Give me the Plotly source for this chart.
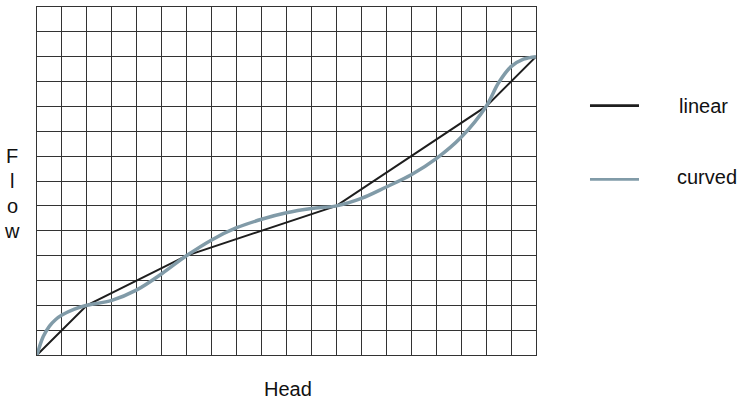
import plotly.graph_objects as go

# Data
linear_x = [0, 2, 6, 12, 18, 20]
linear_y = [0, 2, 4, 6, 10, 12]

curved_x = [0, 0.25, 0.5, 0.75, 1, 1.5, 2, 3, 4, 5, 6, 7, 8, 9, 10, 11, 12,
            13, 14, 15, 16, 17, 18, 18.5, 19, 19.5, 20]
curved_y = [0, 0.74, 1.16, 1.43, 1.61, 1.85, 2, 2.2, 2.62, 3.27, 4, 4.63, 5.12,
            5.46, 5.72, 5.89, 6, 6.3, 6.76, 7.25, 7.9, 8.76, 10, 10.95, 11.6,
            11.9, 12]

series_names = ["linear", "curved"]
series_colors = ["#1e1e1e", "#819ba8"]
series_widths = [2, 3.5]

x_title = "Head"
y_title_letters = ["F", "l", "o", "w"]

fig = go.Figure()
fig.add_trace(go.Scatter(x=linear_x, y=linear_y, mode="lines", name=series_names[0],
                         line=dict(color=series_colors[0], width=series_widths[0]),
                         showlegend=False))
fig.add_trace(go.Scatter(x=curved_x, y=curved_y, mode="lines", name=series_names[1],
                         line=dict(color=series_colors[1], width=series_widths[1],
                                   shape="spline", smoothing=1.0),
                         showlegend=False))

grid_color = "#333333"
fig.update_xaxes(range=[0, 20], dtick=1, tick0=0, showgrid=True, gridcolor=grid_color,
                 gridwidth=1, showticklabels=False, ticks="", zeroline=False,
                 showline=True, linecolor=grid_color, linewidth=1, mirror=True)
fig.update_yaxes(range=[0, 14], dtick=1, tick0=0, showgrid=True, gridcolor=grid_color,
                 gridwidth=1, showticklabels=False, ticks="", zeroline=False,
                 showline=True, linecolor=grid_color, linewidth=1, mirror=True)

FS = 20
annotations = []
annotations.append(dict(text=x_title, xref="paper", yref="paper", x=0.503, y=0,
                        yshift=-34, showarrow=False,
                        font=dict(size=FS, color="#111"), yanchor="middle"))
for i, letter in enumerate(y_title_letters):
    annotations.append(dict(text=letter, xref="paper", yref="y", x=0, y=8 - i,
                            xshift=-25, showarrow=False,
                            font=dict(size=FS, color="#111"),
                            xanchor="center", yanchor="middle"))

# Legend drawn next to the plot
shapes = []
leg_line_y = [0.7164, 0.5049]
leg_text_y = [0.7155, 0.5115]
leg_text_x = [1.283, 1.279]
for name, color, ly, ty, tx in zip(series_names, series_colors, leg_line_y, leg_text_y, leg_text_x):
    shapes.append(dict(type="line", xref="paper", yref="paper", x0=1.1082, x1=1.2064,
                       y0=ly, y1=ly, line=dict(color=color, width=2.7)))
    annotations.append(dict(text=name, xref="paper", yref="paper", x=tx, y=ty,
                            showarrow=False, xanchor="left", yanchor="middle",
                            font=dict(size=FS, color="#111")))

fig.update_layout(
    width=746, height=400,
    margin=dict(l=37, r=210, t=7, b=45),
    plot_bgcolor="white", paper_bgcolor="white",
    font=dict(family="Liberation Sans, Arial, sans-serif"),
    annotations=annotations, shapes=shapes,
)

fig.write_html("out.html", config={"displayModeBar": False},
               post_script="document.body.style.margin='0';")
